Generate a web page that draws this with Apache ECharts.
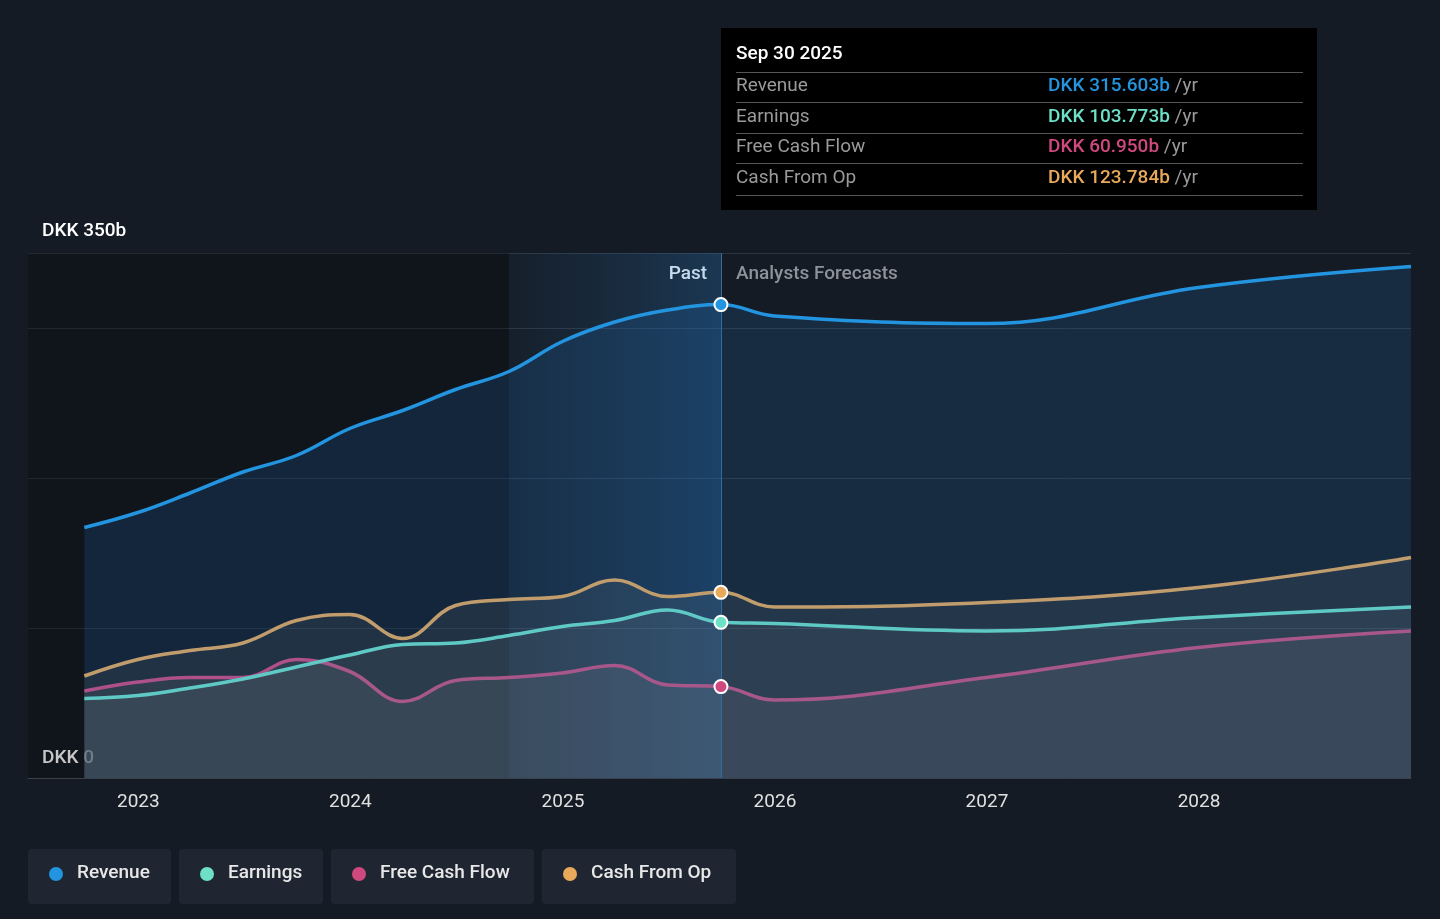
<!DOCTYPE html>
<html>
<head>
<meta charset="utf-8">
<script src="https://cdn.jsdelivr.net/npm/echarts@6/dist/echarts.min.js"></script>
<style>
  html, body { margin: 0; padding: 0; background: #151b24; }
  #main { width: 1440px; height: 919px; }
</style>
</head>
<body>
<div id="main"></div>
<script>
// dates of each point (past quarterly, then analyst forecasts yearly)
const dates = ['2022-09-30','2022-12-31','2023-03-31','2023-06-30','2023-09-30','2023-12-31','2024-03-31',
  '2024-06-30','2024-09-30','2024-12-31','2025-03-31','2025-06-30','2025-09-30',
  '2025-12-31','2026-12-31','2027-12-31','2028-12-31'];
// values in DKK billions
const revenue = [167,177,190,204,215,233,245,259,271,291,304,312,315.603,308,303,327,341];
const earnings = [53,55,60,66,74,82,89,90,95,101,105,112,103.773,103,98,107,114];
const freeCashFlow = [58,64,67,67,79,71,51,65,67,70,75,62,60.95,52,67,87,98];
const cashFromOp = [68,79,85,90,105,109,93,115,119,121,132,121,123.784,114,117,127,147];
const yTicks = ['DKK 0', 'DKK 350b'];

const pastEnd = '2025-09-30';
const names = ['Revenue','Earnings','Free Cash Flow','Cash From Op'];
const colors = ['#2394df','#6ee0c8','#d0497e','#e8a95a'];
const seriesData = [revenue, earnings, freeCashFlow, cashFromOp];
const fills = ['rgba(35,110,190,0.28)','rgba(150,150,140,0.16)','rgba(160,140,140,0.2)','rgba(160,150,130,0.16)'];

function pairs(vals) { return dates.map((d, i) => [d, vals[i]]); }

const series = seriesData.map((vals, i) => ({
  name: names[i],
  type: 'line',
  smooth: 0.4,
  symbol: 'none',
  data: pairs(vals),
  lineStyle: { color: colors[i], width: 3.5 },
  areaStyle: { color: fills[i], origin: 'start' },
  z: 5 - i,
  markPoint: {
    symbol: 'circle', symbolSize: 13, z: 20,
    itemStyle: { color: colors[i], borderColor: '#fff', borderWidth: 2, opacity: 1 },
    label: { show: false },
    data: [{ coord: [pastEnd, vals[12]] }]
  }
}));

series.push({
  type: 'line', data: [], silent: true,
  markArea: {
    silent: true,
    data: [
      [{ xAxis: '2022-06-01', itemStyle: { color: 'rgba(0,0,0,0.22)' } }, { xAxis: '2024-09-30' }],
      [{ xAxis: '2024-09-30', itemStyle: { color: {
        type: 'linear', x: 0, y: 0, x2: 1, y2: 0,
        colorStops: [{ offset: 0, color: 'rgba(40,110,170,0.05)' }, { offset: 1, color: 'rgba(40,120,190,0.3)' }]
      } } }, { xAxis: pastEnd }]
    ]
  },
  markLine: {
    silent: true, symbol: 'none', label: { show: false },
    lineStyle: { color: '#3a6a95', width: 1, type: 'solid' },
    data: [{ xAxis: pastEnd }]
  }
});

const chart = echarts.init(document.getElementById('main'));

const legendBoxes = [[28,143],[179,144],[331,203],[542,194]];
const graphics = [];
legendBoxes.forEach((b, i) => {
  graphics.push({ type: 'rect', left: b[0], top: 849, shape: { width: b[1], height: 55, r: 4 }, style: { fill: '#1f2632' } });
  graphics.push({ type: 'circle', left: b[0] + 21, top: 867, shape: { r: 7 }, style: { fill: colors[i] } });
  graphics.push({ type: 'text', left: b[0] + 49, top: 864, style: { text: names[i], fill: '#e8e8e8', font: '500 19px Roboto' } });
});

// tooltip-like info box
graphics.push({ type: 'rect', left: 721, top: 28, shape: { width: 596, height: 182 }, style: { fill: '#000' } });
graphics.push({ type: 'text', left: 736, top: 45, style: { text: 'Sep 30 2025', fill: '#fff', font: '500 19px Roboto' } });
const tipVals = ['DKK 315.603b','DKK 103.773b','DKK 60.950b','DKK 123.784b'];
[72,102,133,163,195].forEach(y => graphics.push({ type: 'rect', left: 736, top: y, shape: { width: 567, height: 1 }, style: { fill: '#555' } }));
names.forEach((n, i) => {
  const y = 77 + i * 30.5;
  graphics.push({ type: 'text', left: 736, top: y, style: { text: n, fill: '#9a9a9a', font: '19px Roboto' } });
  graphics.push({ type: 'text', left: 1048, top: y, style: { rich: { v: { fill: colors[i], font: '500 19px Roboto' }, u: { fill: '#9a9a9a', font: '19px Roboto' } }, text: '{v|' + tipVals[i] + '}{u| /yr}' } });
});
graphics.push({ type: 'text', right: 1440 - 707, top: 265, style: { text: 'Past', fill: '#fff', font: '500 19px Roboto', textAlign: 'right' } });
graphics.push({ type: 'text', left: 736, top: 265, style: { text: 'Analysts Forecasts', fill: '#8d939b', font: '500 19px Roboto' } });
graphics.push({ type: 'text', left: 42, top: 222, style: { text: yTicks[1], fill: '#fff', font: '500 19px Roboto' } });
graphics.push({ type: 'text', left: 42, top: 749, style: { rich: { a: { fill: '#fff', font: '500 19px Roboto' }, b: { fill: '#9a9a9a', font: '500 19px Roboto' } }, text: '{a|DKK }{b|0}' } });
graphics.push({ type: 'rect', left: 28, top: 253, shape: { width: 1383, height: 1 }, style: { fill: '#3a414c' } });

chart.setOption({
  backgroundColor: '#151b24',
  animation: false,
  grid: { left: 28, right: 29, top: 253, bottom: 141 },
  xAxis: {
    type: 'time',
    min: '2022-06-25', max: '2028-12-31',
    minInterval: 365 * 24 * 3600 * 1000,
    axisLine: { lineStyle: { color: '#3a414c' } },
    axisTick: { show: false },
    splitLine: { show: false },
    axisLabel: { color: '#e0e0e0', fontSize: 19, fontFamily: 'Roboto', margin: 15,
      formatter: v => { const d = new Date(v); return d.getMonth() === 0 && d.getDate() === 1 ? String(d.getFullYear()) : ''; } }
  },
  yAxis: {
    type: 'value', min: 0, max: 350, interval: 100,
    axisLabel: { show: false }, axisLine: { show: false }, axisTick: { show: false },
    splitLine: { lineStyle: { color: '#2c3440' } }
  },
  series: series,
  graphic: graphics
});
</script>
</body>
</html>
